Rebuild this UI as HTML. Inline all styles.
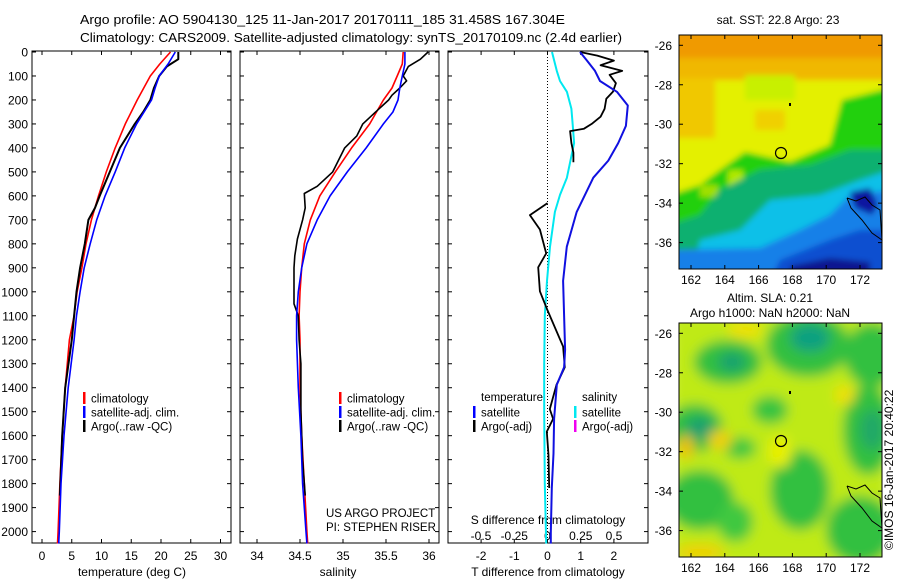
<!DOCTYPE html>
<html><head><meta charset="utf-8">
<style>
html,body{margin:0;padding:0;background:#fff;}
svg{display:block;font-family:"Liberation Sans",sans-serif;}
text{fill:#000;}
</style></head>
<body>
<svg id="chart" width="900" height="580" viewBox="0 0 900 580" xmlns="http://www.w3.org/2000/svg">
<defs>
<filter id="blur1" x="-20%" y="-20%" width="140%" height="140%"><feGaussianBlur stdDeviation="3"/></filter>
<filter id="blur2" x="-20%" y="-20%" width="140%" height="140%"><feGaussianBlur stdDeviation="6"/></filter>
<clipPath id="clipMap1"><rect x="679" y="35" width="203" height="234"/></clipPath>
<clipPath id="clipMap2"><rect x="679" y="323" width="203" height="234"/></clipPath>
</defs>
<text x="80" y="24" font-size="13" textLength="485" lengthAdjust="spacingAndGlyphs">Argo profile: AO 5904130_125 11-Jan-2017 20170111_185 31.458S 167.304E</text>
<text x="80" y="42" font-size="13" textLength="542" lengthAdjust="spacingAndGlyphs">Climatology: CARS2009. Satellite-adjusted climatology: synTS_20170109.nc (2.4d earlier)</text>

<!-- SST map -->
<g>
<g clip-path="url(#clipMap1)" filter="url(#blur1)">
<rect x="670" y="25" width="220" height="250" fill="#e4f000"/>
<rect x="670" y="25" width="220" height="40" fill="#f09a00"/>
<rect x="670" y="58" width="220" height="22" fill="#f0b800"/>
<rect x="670" y="78" width="45" height="60" fill="#f0c800"/>
<rect x="745" y="75" width="50" height="25" fill="#c8f000"/>
<rect x="755" y="110" width="30" height="20" fill="#f0d000"/>
<polygon points="670,195 700,185 720,170 745,152 790,162 830,145 842,100 890,88 890,280 670,280" fill="#20d010"/>
<rect x="700" y="185" width="18" height="12" fill="#a0e000"/>
<rect x="728" y="170" width="15" height="20" fill="#b0e800"/>
<polygon points="670,225 700,215 720,190 760,170 810,165 850,150 890,150 890,280 670,280" fill="#10b070"/>
<polygon points="700,240 740,230 770,200 820,195 860,180 890,170 890,280 690,280" fill="#10c0e8"/>
<polygon points="670,250 760,248 800,230 830,215 850,195 890,190 890,280 670,280" fill="#1880e8"/>
<polygon points="780,260 830,240 860,230 890,230 890,280 770,280" fill="#1050d0"/>
<polygon points="850,192 870,188 878,205 872,215 855,208" fill="#0818a0"/>
<polygon points="790,266 830,258 870,262 870,280 790,280" fill="#081890"/>
</g>
<rect x="679" y="35" width="203" height="234" fill="none" stroke="#000" stroke-width="1"/>
<polyline points="847,198 856,201 865,197 872,205 880,210 882,240 872,233 862,220 851,208 847,198" fill="none" stroke="#000" stroke-width="1"/>
<circle cx="781" cy="153" r="5.5" fill="none" stroke="#000" stroke-width="1.2"/>
<rect x="789" y="103" width="2" height="3" fill="#000"/>
</g>
<text x="778" y="24" font-size="12" text-anchor="middle">sat. SST: 22.8 Argo: 23</text>

<!-- SLA map -->
<g>
<g clip-path="url(#clipMap2)" filter="url(#blur2)">
<rect x="670" y="313" width="220" height="254" fill="#e0f010"/>
<rect x="670" y="313" width="220" height="254" fill="#80e020" opacity="0.35"/>
<ellipse cx="808" cy="345" rx="42" ry="32" fill="#30c040"/>
<ellipse cx="810" cy="338" rx="20" ry="14" fill="#10a080"/>
<ellipse cx="728" cy="362" rx="34" ry="22" fill="#30c040"/>
<ellipse cx="732" cy="362" rx="14" ry="9" fill="#18a070"/>
<ellipse cx="872" cy="355" rx="28" ry="32" fill="#30c040"/>
<ellipse cx="695" cy="428" rx="28" ry="24" fill="#30c040"/>
<ellipse cx="700" cy="428" rx="14" ry="11" fill="#18a070"/>
<ellipse cx="770" cy="410" rx="18" ry="14" fill="#38c440"/>
<ellipse cx="868" cy="430" rx="25" ry="45" fill="#30c040"/>
<ellipse cx="872" cy="430" rx="12" ry="20" fill="#20a868"/>
<ellipse cx="700" cy="500" rx="34" ry="30" fill="#30c040"/>
<ellipse cx="800" cy="490" rx="30" ry="40" fill="#30c040"/>
<ellipse cx="860" cy="530" rx="34" ry="34" fill="#30c040"/>
<ellipse cx="740" cy="448" rx="16" ry="11" fill="#40c840"/>
<ellipse cx="735" cy="522" rx="18" ry="20" fill="#40c840"/>
<ellipse cx="720" cy="440" rx="12" ry="10" fill="#f0d000"/>
<ellipse cx="686" cy="447" rx="8" ry="12" fill="#f0c000"/>
<ellipse cx="845" cy="395" rx="10" ry="10" fill="#f0e000"/>
<ellipse cx="700" cy="552" rx="25" ry="8" fill="#f0d000"/>
<ellipse cx="745" cy="330" rx="18" ry="8" fill="#f0e000"/>
<ellipse cx="780" cy="452" rx="12" ry="16" fill="#e8f000"/>
</g>
<rect x="679" y="323" width="203" height="234" fill="none" stroke="#000" stroke-width="1"/>
<polyline points="847,486 856,489 865,485 872,493 880,498 882,528 872,521 862,508 851,496 847,486" fill="none" stroke="#000" stroke-width="1"/>
<circle cx="781" cy="441" r="5.5" fill="none" stroke="#000" stroke-width="1.2"/>
<rect x="789" y="391" width="2" height="3" fill="#000"/>
</g>
<text x="770" y="302" font-size="12" text-anchor="middle">Altim. SLA: 0.21</text>
<text x="770" y="317" font-size="12" text-anchor="middle">Argo h1000: NaN h2000: NaN</text>
<text transform="translate(893,550) rotate(-90)" font-size="12">©IMOS 16-Jan-2017 20:40:22</text>
<g id="dyn"></g>
</svg>
<script>
// ---- data ----
const tempClimDepth = [0,50,100,200,300,400,500,600,700,800,900,1000,1100,1200,1400,1600,1800,2000,2050];
const tempClim      = [21.6,19.8,18.2,16.0,14.0,12.3,10.8,9.5,8.3,7.4,6.7,5.9,5.4,4.6,3.9,3.4,3.0,2.7,2.6];
const tempSatDepth  = [0,50,100,150,200,300,400,500,600,700,800,900,1000,1100,1200,1400,1600,1800,2000,2050];
const tempSat       = [22.4,21.2,19.7,19.0,18.4,15.9,13.9,12.3,10.6,9.2,8.1,7.1,6.4,5.8,5.4,4.4,3.7,3.2,2.9,2.8];
const tempArgoDepth = [0,30,60,100,150,200,250,300,400,500,600,650,700,800,900,1000,1100,1200,1400,1600,1850];
const tempArgo      = [22.9,22.9,21.0,19.7,18.8,18.2,17.0,15.6,13.1,11.4,9.7,8.9,7.8,7.2,6.4,5.8,5.4,5.0,3.9,3.4,3.0];

const salClimDepth = [0,50,100,150,200,300,400,500,600,700,800,900,1000,1100,1200,1400,1600,1800,2000,2050];
const salClim      = [35.70,35.69,35.63,35.57,35.47,35.31,35.10,34.91,34.73,34.62,34.55,34.52,34.50,34.49,34.50,34.50,34.52,34.55,34.58,34.59];
const salSatDepth  = [0,50,100,150,200,250,300,400,500,600,700,800,900,1000,1100,1200,1400,1600,1800,2000,2050];
const salSat       = [35.72,35.72,35.69,35.66,35.64,35.58,35.47,35.27,35.05,34.85,34.70,34.58,34.52,34.48,34.46,34.46,34.48,34.51,34.53,34.57,34.58];
const salArgoDepth = [0,30,60,100,120,150,180,200,260,300,350,400,500,560,590,650,700,780,850,900,1000,1050,1100,1200,1300,1500,1700,1850];
const salArgo      = [35.99,35.90,35.76,35.70,35.74,35.66,35.57,35.53,35.35,35.23,35.16,35.02,34.88,34.70,34.55,34.56,34.53,34.47,34.44,34.43,34.43,34.43,34.48,34.49,34.51,34.51,34.53,34.56];

const dTSatDepth = [0,36,79,121,166,223,308,380,453,524,667,740,812,954,1099,1242,1315,1388,1530,1674,1818,2005,2050];
const dTSat      = [0.98,1.19,1.43,1.58,2.09,2.42,2.36,2.13,1.83,1.38,0.88,0.73,0.58,0.47,0.50,0.53,0.50,0.28,0.20,0.18,0.13,0.10,0.10];
const dSSatDepth = [0,79,121,166,237,308,380,524,596,667,812,954,1099,1300,1500,1800,2050];
const dSSat      = [0.034,0.07,0.094,0.146,0.18,0.19,0.20,0.146,0.094,0.056,0.019,-0.004,-0.02,-0.025,-0.025,-0.02,-0.01];
const dTArgoDepth = [0,15,36,55,79,95,130,166,195,237,270,300,320,330,380,420,460,600,630,680,740,840,898,998,1070,1228,1315,1388,1489,1530,1583,1680,1818];
const dTArgo      = [0.98,1.5,2.0,1.6,2.25,1.87,2.06,1.97,1.77,1.72,1.6,1.33,1.1,0.68,0.72,0.78,0.78,null,0.0,-0.53,-0.23,-0.04,-0.28,-0.23,-0.02,0.47,0.52,0.27,0.07,0.17,-0.02,0.03,0.05];

const depthTicks = [0,100,200,300,400,500,600,700,800,900,1000,1100,1200,1300,1400,1500,1600,1700,1800,1900,2000];
const tempTicks = [0,5,10,15,20,25,30];
const salTicks = [34,34.5,35,35.5,36];
const salTickLabels = ["34","34.5","35","35.5","36"];
const dTTicks = [-2,-1,0,1,2];
const dSTicks = [-0.5,-0.25,0,0.25,0.5];
const dSTickLabels = ["-0.5","-0.25","0","0.25","0.5"];
const latTicks = [-26,-28,-30,-32,-34,-36];
const lonTicks = [162,164,166,168,170,172];

// ---- axes ----
const NS='http://www.w3.org/2000/svg';
const dyn=document.getElementById('dyn');
const Y0=52, YPX=0.2398;
const yD = d => Y0 + d*YPX;
const xT = v => 42 + v*5.95;
const xS = v => 257 + (v-34)*86;
const xDT = v => 547.5 + v*33.2;
const xDS = v => 547.5 + v*133;
const PTOP=51, PBOT=543;

function el(tag, attrs, parent){
  const e=document.createElementNS(NS,tag);
  for(const k in attrs) e.setAttribute(k,attrs[k]);
  (parent||dyn).appendChild(e); return e;
}
function txt(s,x,y,anchor,size,name,parent){
  const t=el('text',{x:x,y:y,'text-anchor':anchor||'start','font-size':size||12},parent);
  t.textContent=s;
  
  
  return t;
}
function line(xs,ds,fx,color,w,name){
  let segs=[],cur=[];
  for(let i=0;i<xs.length;i++){
    if(xs[i]===null){ if(cur.length) segs.push(cur); cur=[]; continue; }
    cur.push(fx(xs[i]).toFixed(1)+','+yD(ds[i]).toFixed(1));
  }
  if(cur.length) segs.push(cur);
  const g=el('g',{});
  
  
  segs.forEach(s=>{
    el('polyline',{points:s.join(' '),fill:'none',stroke:color,'stroke-width':w,'stroke-linejoin':'round'},g);
  });
}

const panels=[[32,231,'temperature-panel'],[240,439,'salinity-panel'],[448,648,'difference-panel']];
panels.forEach(p=>{
  const r=el('rect',{x:p[0],y:PTOP,width:p[1]-p[0],height:PBOT-PTOP,fill:'none',stroke:'#000','stroke-width':1});
  
  
  depthTicks.forEach(d=>{
    el('line',{x1:p[0],x2:p[0]+4,y1:yD(d),y2:yD(d),stroke:'#000'});
    el('line',{x1:p[1]-4,x2:p[1],y1:yD(d),y2:yD(d),stroke:'#000'});
  });
});
depthTicks.forEach(d=>{ txt(String(d),28,yD(d)+4.5,'end',12,'depth-tick-label'); });

function xticks(ticks,labels,fx,ly,top,bot){
  ticks.forEach((v,i)=>{
    const x=fx(v);
    if(top) el('line',{x1:x,x2:x,y1:PTOP,y2:PTOP+4,stroke:'#000'});
    if(bot) el('line',{x1:x,x2:x,y1:PBOT-4,y2:PBOT,stroke:'#000'});
    txt(labels[i],x,ly,'middle',12,'x-tick-label');
  });
}
xticks(tempTicks,tempTicks.map(String),xT,560,true,true);
xticks(salTicks,salTickLabels,xS,560,true,true);
xticks(dTTicks,dTTicks.map(String),xDT,560,true,true);
xticks(dSTicks,dSTickLabels,xDS,540,false,false);
txt('temperature (deg C)',132,576,'middle',12,'temperature-axis-title');
txt('salinity',338,576,'middle',12,'salinity-axis-title');
txt('T difference from climatology',548,576,'middle',12,'t-difference-axis-title');
txt('S difference from climatology',548,524,'middle',12,'s-difference-axis-title');
const zl=el('line',{x1:xDT(0),x2:xDT(0),y1:PTOP,y2:PBOT,stroke:'#000','stroke-dasharray':'1,2'});



// series
line(tempClim,tempClimDepth,xT,'#f00',1.6,'temperature-climatology-line');
line(tempArgo,tempArgoDepth,xT,'#000',2,'temperature-argo-line');
line(tempSat,tempSatDepth,xT,'#00f',1.6,'temperature-satellite-line');
line(salClim,salClimDepth,xS,'#f00',1.6,'salinity-climatology-line');
line(salArgo,salArgoDepth,xS,'#000',1.6,'salinity-argo-line');
line(salSat,salSatDepth,xS,'#00f',1.6,'salinity-satellite-line');
line(dSSat,dSSatDepth,xDS,'#00e8f0',2,'s-difference-satellite-line');
line(dTArgo,dTArgoDepth,xDT,'#000',1.8,'t-difference-argo-line');
line(dTSat,dTSatDepth,xDT,'#1010e0',2,'t-difference-satellite-line');

// legends
function legendItem(x,y,color,label,name){
  const g=el('g',{});
  
  
  el('rect',{x:x,y:y-6,width:2.5,height:12,fill:color},g);
  txt(label,x+8,y+4.5,'start',11.5,name+'-label',g);
}
[[83,'climatology-legend'],[339,'sal-climatology-legend']].forEach(a=>{
  legendItem(a[0],398,'#f00','climatology',a[1]);
  legendItem(a[0],412,'#00f','satellite-adj. clim.',a[1]+'-satellite');
  legendItem(a[0],426,'#000','Argo(..raw -QC)',a[1]+'-argo');
});
txt('temperature',481,401,'start',11.5,'temperature-legend-heading');
legendItem(473,412,'#00f','satellite','t-satellite-legend');
legendItem(473,426,'#000','Argo(-adj)','t-argo-legend');
txt('salinity',582,401,'start',11.5,'salinity-legend-heading');
legendItem(574,412,'#00e8f0','satellite','s-satellite-legend');
legendItem(574,426,'#f000f0','Argo(-adj)','s-argo-legend');
txt('US ARGO PROJECT',326,517,'start',11.5,'project-label');
txt('PI: STEPHEN RISER',326,531,'start',11.5,'pi-label');

// map ticks
[[35,269,45.3],[323,557,333.3]].forEach((m,mi)=>{
  latTicks.forEach(l=>{
    const y=m[2]+(-26-l)*19.73;
    el('line',{x1:679,x2:683,y1:y,y2:y,stroke:'#000'});
    el('line',{x1:878,x2:882,y1:y,y2:y,stroke:'#000'});
    txt(String(l),672,y+4.5,'end',12,'latitude-tick-label');
  });
  lonTicks.forEach(l=>{
    const x=691+(l-162)*16.9;
    el('line',{x1:x,x2:x,y1:m[0],y2:m[0]+4,stroke:'#000'});
    el('line',{x1:x,x2:x,y1:m[1]-4,y2:m[1],stroke:'#000'});
    txt(String(l),x,m[1]+15,'middle',12,'longitude-tick-label');
  });
});
</script>
</body></html>
